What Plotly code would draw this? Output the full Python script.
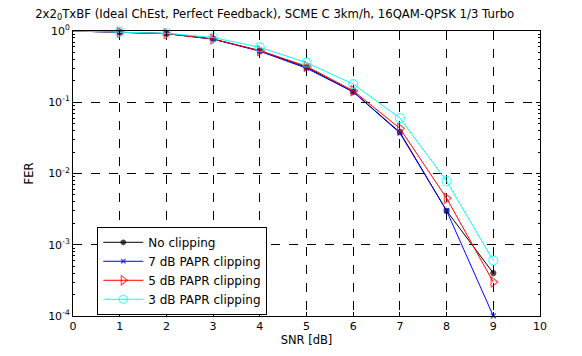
import plotly.graph_objects as go

snr = [0, 1, 2, 3, 4, 5, 6, 7, 8, 9]
fer_none = [1.0, 0.96, 0.92, 0.77, 0.53, 0.31, 0.14, 0.038, 0.003, 0.0004]
fer_7db = [1.0, 0.96, 0.92, 0.77, 0.52, 0.30, 0.14, 0.037, 0.003, 0.0001]
fer_5db = [1.0, 0.96, 0.92, 0.77, 0.53, 0.32, 0.145, 0.043, 0.0045, 0.0003]
fer_3db = [1.0, 0.97, 0.93, 0.81, 0.59, 0.36, 0.18, 0.06, 0.0078, 0.0006]

series = [
    ("No clipping", fer_none, "black", "circle", 5, 1.0),
    ("7 dB PAPR clipping", fer_7db, "blue", "x-thin-open", 5, 1.0),
    ("5 dB PAPR clipping", fer_5db, "red", "triangle-right-open", 9, 1.0),
    ("3 dB PAPR clipping", fer_3db, "cyan", "circle-open", 9, 1.0),
]

fig = go.Figure()
for name, y, col, sym, sz, lw in series:
    sizes = [0] + [sz] * (len(snr) - 1)
    fig.add_trace(go.Scatter(
        x=snr, y=y, name=name, mode="lines+markers",
        line=dict(color=col, width=lw),
        marker=dict(symbol=sym, size=sizes, color=col, line=dict(color=col, width=1.2)),
        cliponaxis=False,
    ))

font = dict(family="DejaVu Sans, Liberation Sans, Arial, sans-serif", size=11, color="black")
yt = [1e-4, 1e-3, 1e-2, 1e-1, 1]
ytext = ["10<sup>-4</sup>", "10<sup>-3</sup>", "10<sup>-2</sup>", "10<sup>-1</sup>", "10<sup>0</sup>"]

fig.update_layout(
    width=582, height=356,
    margin=dict(l=73, r=42, t=31, b=31),
    paper_bgcolor="white", plot_bgcolor="white",
    font=font,
    title=dict(text="2x2<sub>0</sub>TxBF (Ideal ChEst, Perfect Feedback), SCME C 3km/h, 16QAM-QPSK 1/3 Turbo",
               x=0.472, xanchor="center", y=0.962, yanchor="middle", font=dict(size=11.7)),
    showlegend=True,
    legend=dict(x=0.052, y=0.313, xanchor="left", yanchor="top",
                bgcolor="white", bordercolor="black", borderwidth=1,
                font=dict(size=12), tracegroupgap=0, itemwidth=40),
    xaxis=dict(range=[0, 10], tickvals=list(range(11)), showgrid=True,
               gridcolor="black", griddash="dash", gridwidth=1,
               showline=True, linecolor="black", linewidth=1, mirror="ticks",
               ticks="inside", ticklen=4, tickcolor="black", zeroline=False,
               title=dict(text="SNR [dB]", standoff=3, font=dict(size=11.5))),
    yaxis=dict(type="log", range=[-4, 0], tickvals=yt, ticktext=ytext, showgrid=True,
               gridcolor="black", griddash="dash", gridwidth=1,
               showline=True, linecolor="black", linewidth=1, mirror="ticks",
               ticks="inside", ticklen=4, tickcolor="black", zeroline=False,
               minor=dict(ticks="inside", ticklen=2, tickcolor="black", showgrid=False,
                          tickvals=[m * 10 ** e for e in range(-4, 0) for m in range(2, 10)]),
               title=dict(text="FER", standoff=12, font=dict(size=11.5))),
)

fig.write_html("out.html")
